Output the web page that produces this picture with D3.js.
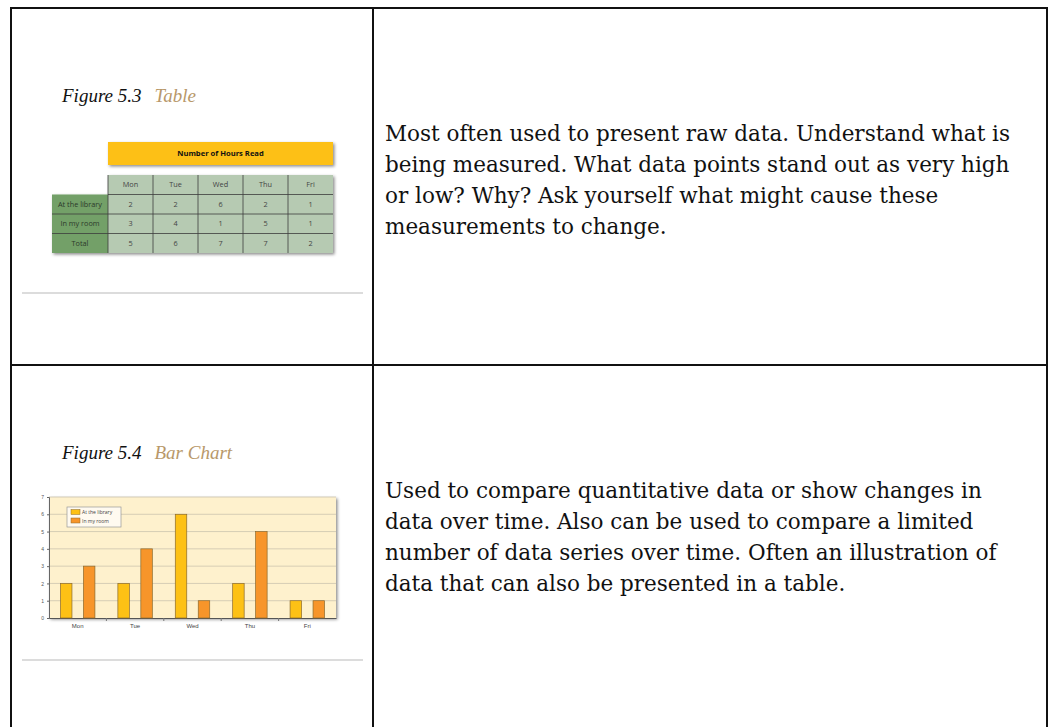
<!DOCTYPE html>
<meta charset="utf-8">
<script src="https://d3js.org/d3.v7.min.js"></script>
<style>
  body { margin: 0; background: #fff; }
  svg { display: block; }
</style>
<body>
<div id="page"></div>
<script>

// data for Figure 5.3 / 5.4
var days = ["Mon", "Tue", "Wed", "Thu", "Fri"];
var library = [2, 2, 6, 2, 1];
var room = [3, 4, 1, 5, 1];
var totals = [5, 6, 7, 7, 2];
var rowNames = ["At the library", "In my room", "Total"];
var seriesNames = ["At the library", "In my room"];
var yTicks = [0, 1, 2, 3, 4, 5, 6, 7];

var tableText = [
  "Most often used to present raw data. Understand what is",
  "being measured. What data points stand out as very high",
  "or low? Why? Ask yourself what might cause these",
  "measurements to change."
];
var chartText = [
  "Used to compare quantitative data or show changes in",
  "data over time. Also can be used to compare a limited",
  "number of data series over time. Often an illustration of",
  "data that can also be presented in a table."
];

var svg = d3.select("#page").append("svg")
  .attr("width", 1050)
  .attr("height", 727);

var defs = svg.append("defs");
var f = defs.append("filter").attr("id", "shadow")
  .attr("x", "-10%").attr("y", "-20%").attr("width", "125%").attr("height", "150%");
f.append("feDropShadow").attr("dx", 1.5).attr("dy", 1.5).attr("stdDeviation", 1.6)
  .attr("flood-color", "#000").attr("flood-opacity", 0.45);

// ---- outer layout table ----
var grid = svg.append("g").attr("stroke", "#111").attr("stroke-width", 2);
grid.append("line").attr("x1", 10).attr("x2", 1048).attr("y1", 8).attr("y2", 8);
grid.append("line").attr("x1", 11).attr("x2", 11).attr("y1", 7).attr("y2", 727);
grid.append("line").attr("x1", 373).attr("x2", 373).attr("y1", 7).attr("y2", 727);
grid.append("line").attr("x1", 1047).attr("x2", 1047).attr("y1", 7).attr("y2", 727);
grid.append("line").attr("x1", 10).attr("x2", 1048).attr("y1", 365).attr("y2", 365);

svg.selectAll(".sep").data([293, 660]).enter().append("line")
  .attr("x1", 22).attr("x2", 363)
  .attr("y1", function(d) { return d; }).attr("y2", function(d) { return d; })
  .attr("stroke", "#dcdcdc").attr("stroke-width", 2);

function caption(y, num, name) {
  var t = svg.append("text")
    .attr("x", 62).attr("y", y)
    .style("font-family", "'Liberation Serif', serif")
    .style("font-style", "italic")
    .style("font-size", "19px");
  t.append("tspan").attr("fill", "#111").text(num);
  t.append("tspan").attr("dx", 13).attr("fill", "#b8986a").text(name);
}
caption(102, "Figure 5.3", "Table");
caption(459, "Figure 5.4", "Bar Chart");

function para(lines, y0) {
  svg.append("g").selectAll("text").data(lines).enter().append("text")
    .attr("x", 385)
    .attr("y", function(d, i) { return y0 + i * 31; })
    .style("font-family", "'DejaVu Serif', serif")
    .style("font-size", "21.5px")
    .attr("fill", "#111")
    .text(function(d) { return d; });
}
para(tableText, 141);
para(chartText, 498);

// ---- Figure 5.3 table ----
var tx = d3.scaleBand().domain(days).range([108, 333]);
var ty = d3.scaleBand().domain(["head"].concat(rowNames)).range([175, 253]);
var tbl = svg.append("g").style("font-family", "'Open Sans', sans-serif").style("font-size", "7.3px");

tbl.append("rect").attr("x", 108).attr("y", 142).attr("width", 225).attr("height", 23)
  .attr("fill", "#fdc012").attr("filter", "url(#shadow)");
tbl.append("text").attr("x", 220.5).attr("y", 156).attr("text-anchor", "middle")
  .style("font-weight", "bold").style("font-size", "7.6px").attr("fill", "#111").text("Number of Hours Read");

var body = tbl.append("g").attr("filter", "url(#shadow)");
body.append("rect").attr("x", 108).attr("y", 175).attr("width", 225).attr("height", 78).attr("fill", "#b6cab2");
body.append("rect").attr("x", 52).attr("y", ty("At the library")).attr("width", 56).attr("height", 253 - ty("At the library")).attr("fill", "#73a067");

var lines = tbl.append("g").attr("stroke", "#3c3c3c").attr("stroke-width", 0.8);
days.slice(1).forEach(function(d) {
  lines.append("line").attr("x1", tx(d)).attr("x2", tx(d)).attr("y1", 175).attr("y2", 253);
});
rowNames.forEach(function(r) {
  lines.append("line").attr("x1", ty(r) === ty("At the library") ? 108 : 52).attr("x2", 333)
    .attr("y1", ty(r)).attr("y2", ty(r));
});
lines.append("line").attr("x1", 108).attr("x2", 108).attr("y1", 175).attr("y2", 253);

tbl.selectAll(".dh").data(days).enter().append("text")
  .attr("x", function(d) { return tx(d) + tx.bandwidth() / 2; })
  .attr("y", ty("head") + ty.bandwidth() / 2 + 2.5)
  .attr("text-anchor", "middle").attr("fill", "#444").text(function(d) { return d; });

var rows = [library, room, totals];
rowNames.forEach(function(r, i) {
  tbl.append("text").attr("x", 80).attr("y", ty(r) + ty.bandwidth() / 2 + 2.5)
    .attr("text-anchor", "middle").attr("fill", "#2c3a2a").text(r);
  tbl.selectAll(".c" + i).data(rows[i]).enter().append("text")
    .attr("x", function(d, j) { return tx(days[j]) + tx.bandwidth() / 2; })
    .attr("y", ty(r) + ty.bandwidth() / 2 + 2.5)
    .attr("text-anchor", "middle").attr("fill", "#444").text(function(d) { return d; });
});

// ---- Figure 5.4 bar chart ----
var x = d3.scaleBand().domain(days).range([49, 336]);
var xs = d3.scaleBand().domain(seriesNames).range([0, x.bandwidth()]).paddingInner(0.5).paddingOuter(0.5);
var y = d3.scaleLinear().domain([0, 7]).range([618, 497]);
var colors = { "At the library": "#fdc115", "In my room": "#f7952a" };

var ch = svg.append("g").style("font-family", "'Open Sans', sans-serif");
ch.append("rect").attr("x", 49).attr("y", y(7)).attr("width", 287).attr("height", y(0) - y(7))
  .attr("fill", "#fef1cd").attr("filter", "url(#shadow)");

ch.append("g").selectAll("line").data(yTicks.slice(1)).enter().append("line")
  .attr("x1", 49).attr("x2", 336)
  .attr("y1", function(d) { return y(d); }).attr("y2", function(d) { return y(d); })
  .attr("stroke", "#cbc4ae").attr("stroke-width", 0.8);

var yAxis = ch.append("g").attr("transform", "translate(49,0)")
  .call(d3.axisLeft(y).tickValues(yTicks).tickFormat(d3.format("d")).tickSize(2).tickPadding(3));
yAxis.selectAll("text").style("font-size", "5px").attr("fill", "#555");
yAxis.selectAll("line, path").attr("stroke", "#666");

var xAxis = ch.append("g").attr("transform", "translate(0,618)")
  .call(d3.axisBottom(x).tickSize(0).tickPadding(6));
xAxis.select("path").attr("stroke", "#555");
xAxis.selectAll("text").style("font-size", "6px").attr("fill", "#444");
xAxis.append("g").selectAll("line").data(days.slice(1)).enter().append("line")
  .attr("x1", function(d) { return x(d); }).attr("x2", function(d) { return x(d); })
  .attr("y1", 0).attr("y2", 3).attr("stroke", "#777");

var groups = ch.append("g").selectAll("g").data(days).enter().append("g")
  .attr("transform", function(d) { return "translate(" + x(d) + ",0)"; });
groups.selectAll("rect")
  .data(function(d, i) { return [{ k: "At the library", v: library[i] }, { k: "In my room", v: room[i] }]; })
  .enter().append("rect")
  .attr("x", function(d) { return xs(d.k); })
  .attr("y", function(d) { return y(d.v); })
  .attr("width", xs.bandwidth())
  .attr("height", function(d) { return y(0) - y(d.v); })
  .attr("fill", function(d) { return colors[d.k]; })
  .attr("stroke", "#8a6a2e").attr("stroke-width", 0.7);

var leg = ch.append("g");
leg.append("rect").attr("x", 67).attr("y", 507).attr("width", 54).attr("height", 20)
  .attr("fill", "#fffaf0").attr("stroke", "#999").attr("stroke-width", 0.7);
seriesNames.forEach(function(s, i) {
  leg.append("rect").attr("x", 71).attr("y", 509.5 + i * 8.5).attr("width", 9).attr("height", 5)
    .attr("fill", colors[s]).attr("stroke", "#8a6a2e").attr("stroke-width", 0.5);
  leg.append("text").attr("x", 82).attr("y", 514 + i * 8.5).style("font-size", "5px")
    .attr("fill", "#444").text(s);
});

</script>
</body>
